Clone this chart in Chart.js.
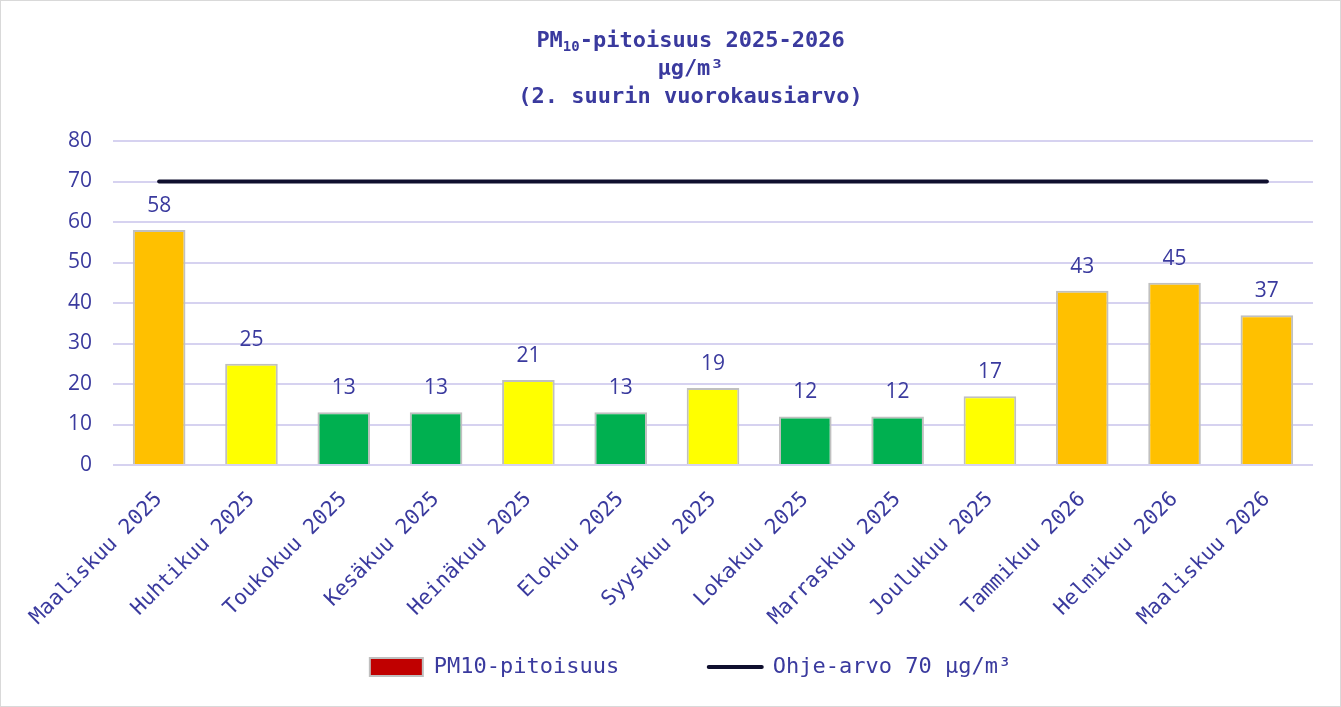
<!DOCTYPE html>
<html>
<head>
<meta charset="utf-8">
<script src="https://cdn.jsdelivr.net/npm/chart.js@4/dist/chart.umd.min.js"></script>
<style>
  html, body { margin: 0; padding: 0; background: #fff; }
  #wrap { position: relative; width: 1339px; height: 705px; border: 1px solid #d9d9d9; }
</style>
</head>
<body>
<div id="wrap"><canvas id="pmChart"></canvas></div>
<script>
const months = ["Maaliskuu 2025", "Huhtikuu 2025", "Toukokuu 2025", "Kesäkuu 2025", "Heinäkuu 2025",
  "Elokuu 2025", "Syyskuu 2025", "Lokakuu 2025", "Marraskuu 2025", "Joulukuu 2025",
  "Tammikuu 2026", "Helmikuu 2026", "Maaliskuu 2026"];
const pm10 = [58, 25, 13, 13, 21, 13, 19, 12, 12, 17, 43, 45, 37];
const guideValue = 70;
const guideLine = months.map(() => guideValue);
const yTicks = [0, 10, 20, 30, 40, 50, 60, 70, 80];

const textColor = "#3a3a9e";
const monoFont = "'DejaVu Sans Mono'";

function barColor(v) {
  if (v >= 35) return "#ffc000";
  if (v >= 15) return "#ffff00";
  return "#00b050";
}

// title drawn by hand so that PM10 can have a real subscript
const titleBlock = {
  id: "titleBlock",
  afterDraw(chart) {
    const ctx = chart.ctx;
    const cx = (chart.options.layout.padding.left + chart.chartArea.right) / 2;
    ctx.save();
    ctx.fillStyle = textColor;
    ctx.textBaseline = "alphabetic";
    const big = "bold 22px " + monoFont;
    const small = "bold 14px " + monoFont;
    ctx.font = big;
    const wPM = ctx.measureText("PM").width;
    const rest = "-pitoisuus 2025-2026";
    const wRest = ctx.measureText(rest).width;
    ctx.font = small;
    const wSub = ctx.measureText("10").width;
    let x = cx - (wPM + wSub + wRest) / 2;
    ctx.textAlign = "left";
    ctx.font = big;
    ctx.fillText("PM", x, 46);
    ctx.font = small;
    ctx.fillText("10", x + wPM, 50);
    ctx.font = big;
    ctx.fillText(rest, x + wPM + wSub, 46);
    ctx.textAlign = "center";
    ctx.fillText("µg/m³", cx, 74);
    ctx.fillText("(2. suurin vuorokausiarvo)", cx, 102);
    ctx.restore();
  }
};

// numbers above the bars
const valueLabels = {
  id: "valueLabels",
  afterDatasetsDraw(chart) {
    const ctx = chart.ctx;
    const meta = chart.getDatasetMeta(0);
    ctx.save();
    ctx.font = "21px 'Open Sans'";
    ctx.fillStyle = textColor;
    ctx.textAlign = "center";
    ctx.textBaseline = "alphabetic";
    meta.data.forEach((bar, i) => {
      ctx.fillText(pm10[i], bar.x, bar.y - 18);
    });
    ctx.restore();
  }
};

new Chart(document.getElementById("pmChart"), {
  data: {
    labels: months,
    datasets: [
      {
        type: "bar",
        label: "PM10-pitoisuus",
        data: pm10,
        backgroundColor: pm10.map(barColor),
        borderColor: "#c0c0c0",
        borderWidth: 2,
        barPercentage: 0.57,
        categoryPercentage: 1,
        order: 2
      },
      {
        type: "line",
        label: "Ohje-arvo 70 µg/m³",
        data: guideLine,
        borderColor: "#0f0f2e",
        backgroundColor: "#0f0f2e",
        borderWidth: 4,
        borderCapStyle: "round",
        pointRadius: 0,
        order: 1
      }
    ]
  },
  options: {
    responsive: true,
    maintainAspectRatio: false,
    animation: false,
    layout: { padding: { left: 67, right: 27, top: 140, bottom: 18 } },
    plugins: {
      title: { display: false },
      legend: {
        position: "bottom",
        labels: {
          color: textColor,
          font: { family: monoFont, size: 22 },
          usePointStyle: true,
          pointStyleWidth: 53,
          boxHeight: 18,
          padding: 10,
          generateLabels() {
            return [
              { text: "PM10-pitoisuus      ", fillStyle: "#c00000", strokeStyle: "#bfbfbf", lineWidth: 2,
                pointStyle: "rect", fontColor: textColor, datasetIndex: 0 },
              { text: "Ohje-arvo 70 µg/m³", fillStyle: "#0f0f2e", strokeStyle: "#0f0f2e", lineWidth: 4,
                lineCap: "round", pointStyle: "line", fontColor: textColor, datasetIndex: 1 }
            ];
          }
        }
      },
      tooltip: { enabled: false }
    },
    scales: {
      x: {
        grid: { display: false, drawTicks: false },
        border: { display: false },
        ticks: {
          color: textColor,
          font: { family: monoFont, size: 21 },
          minRotation: 45,
          maxRotation: 45,
          padding: 22
        },
        afterFit(axis) {
          axis.paddingLeft = 0;
          axis.paddingRight = 0;
          axis.height = 181;
        }
      },
      y: {
        min: 0,
        max: 80,
        afterBuildTicks(axis) { axis.ticks = yTicks.map(v => ({ value: v })); },
        afterFit(axis) { axis.width = 45; },
        grid: { color: "#d6d2f0", lineWidth: 2, drawTicks: false },
        border: { display: false },
        ticks: {
          color: textColor,
          font: { family: "'Open Sans'", size: 21 },
          padding: 21
        }
      }
    }
  },
  plugins: [valueLabels, titleBlock]
});
</script>
</body>
</html>
